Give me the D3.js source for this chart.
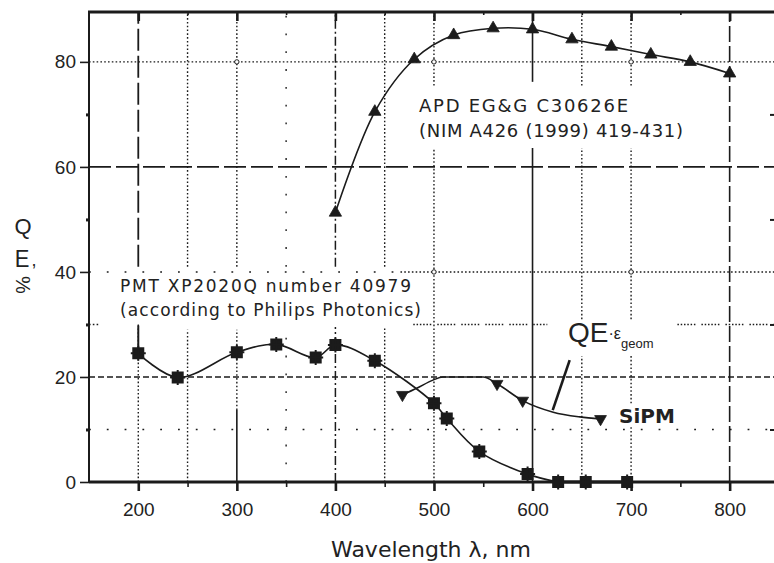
<!DOCTYPE html>
<html>
<head>
<meta charset="utf-8">
<script src="https://cdn.jsdelivr.net/npm/d3@7"></script>
<style>
  html, body { margin: 0; padding: 0; background: #fff; }
  svg { display: block; }
</style>
</head>
<body>
<svg id="chart" width="774" height="563"></svg>
<script>
// ---- data -------------------------------------------------------------
const wavelengthTicks = [200, 300, 400, 500, 600, 700, 800];
const wavelengthMinor = [250, 350, 450, 550, 650, 750];
const qeTicks = [0, 20, 40, 60, 80];
const qeMinor = [10, 30, 50, 70];

// APD EG&G C30626E
const apdWavelength = [400, 440, 480, 520, 560, 600, 640, 680, 720, 760, 800];
const apdQE         = [51.3, 70.5, 80.5, 85.1, 86.4, 86.2, 84.3, 82.9, 81.4, 80.0, 77.8];

// PMT XP2020Q
const pmtWavelength = [200, 240, 300, 340, 380, 400, 440, 500, 513, 546, 595, 626, 654, 696];
const pmtQE         = [24.5, 19.9, 24.7, 26.2, 23.7, 26.1, 23.1, 15.0, 12.1, 5.8, 1.5, 0, 0, 0];

// SiPM, QE x geometric efficiency
const sipmWavelength = [468, 483, 499, 509, 550, 564, 590, 621, 648, 669];
const sipmQE         = [16.6, 17.9, 19.4, 20.0, 20.0, 18.7, 15.5, 13.3, 12.4, 12.0];
const sipmMarked     = [468, 564, 590, 669];

// ---- layout ------------------------------------------------------------
const svg = d3.select("#chart");
const x = d3.scaleLinear().domain([150, 845]).range([89, 774]);
const y = d3.scaleLinear().domain([0, 89.5]).range([482, 12]);
const ink = "#1b1b1b";

// ---- grid --------------------------------------------------------------
const grid = svg.append("g").attr("stroke", ink).attr("fill", "none");
const DOT = "1.6,2.2", SPARSE = "1.8,16", LONG = "22,5", SHORT = "6,3",
      DASHDOT = "9,3,2,3", LONG2 = "16,4",
      GROUPED = "1.5,1.8,1.5,1.8,1.5,1.8,1.5,1.8,1.5,1.8,1.5,6";

function vline(nm, v0, v1, dash, w) {
  grid.append("line")
    .attr("x1", x(nm)).attr("x2", x(nm))
    .attr("y1", y(v0)).attr("y2", y(v1))
    .attr("stroke-width", w || 1.4)
    .attr("stroke-dasharray", dash);
}
function hline(v, nm0, nm1, dash, w) {
  grid.append("line")
    .attr("x1", x(nm0)).attr("x2", x(nm1))
    .attr("y1", y(v)).attr("y2", y(v))
    .attr("stroke-width", w || 1.4)
    .attr("stroke-dasharray", dash);
}

// vertical grid
vline(200, 41, 89.5, LONG, 1.8);
vline(200, 0, 30, DOT);
vline(250, 0, 29, DOT);
vline(250, 41, 89.5, DOT);
vline(300, 13.7, 29, DOT);
vline(300, 0, 13.7, null, 1.6);
vline(300, 41, 89.5, DOT);
vline(350, 0, 29, SPARSE);
vline(350, 41, 89.5, SPARSE);
vline(400, 0, 29.5, DASHDOT, 1.5);
vline(400, 41, 89.5, DASHDOT, 1.5);
vline(450, 0, 29.5, DOT);
vline(450, 41, 89.5, DOT);
vline(500, 0, 63.5, DOT);
vline(500, 75.5, 89.5, DOT);
vline(600, 0, 63.6, null, 1.6);
vline(600, 76.2, 89.5, null, 1.6);
vline(650, 0, 24, DOT);
vline(650, 31, 63.6, DOT);
vline(650, 75.5, 89.5, DOT);
vline(700, 0, 10.5, DOT);
vline(700, 15, 24, DOT);
vline(700, 31, 63.6, DOT);
vline(700, 75.5, 89.5, DOT);
vline(800, 0, 89.5, LONG2, 1.6);

// horizontal grid
hline(80, 150, 845, DOT);
hline(60, 150, 845, LONG, 1.8);
hline(40, 150, 466, SPARSE);
hline(40, 466, 845, DOT);
hline(30, 150, 160, DOT);
hline(30, 479, 615, GROUPED);
hline(30, 747, 845, GROUPED);
hline(20, 150, 845, SHORT, 1.5);
hline(10, 150, 845, SPARSE);

// small rings where the fine dotted rows cross the dotted columns
[[300, 80], [500, 80], [700, 80], [500, 40], [700, 40]].forEach(([nm, v]) => {
  grid.append("circle").attr("cx", x(nm)).attr("cy", y(v)).attr("r", 2.2)
    .attr("fill", "#fff").attr("stroke-width", 1);
});

// ---- frame and axes -----------------------------------------------------
const axisFont = "'Liberation Sans', Arial, sans-serif";

const xAxis = svg.append("g").attr("transform", `translate(0,${y(0)})`)
  .call(d3.axisBottom(x).tickValues(wavelengthTicks).tickSize(9).tickPadding(12));
const xMinor = svg.append("g").attr("transform", `translate(0,${y(0)})`)
  .call(d3.axisBottom(x).tickValues(wavelengthMinor).tickSize(5).tickFormat(""));
const yAxis = svg.append("g").attr("transform", `translate(${x(150)},0)`)
  .call(d3.axisLeft(y).tickValues(qeTicks).tickSize(9).tickPadding(4));
const yMinor = svg.append("g").attr("transform", `translate(${x(150)},0)`)
  .call(d3.axisLeft(y).tickValues(qeMinor).tickSize(3).tickFormat(""));
const topTicks = svg.append("g").attr("transform", `translate(0,${y(89.5)})`)
  .call(d3.axisBottom(x).tickValues(wavelengthTicks).tickSize(9).tickFormat(""));
const topMinor = svg.append("g").attr("transform", `translate(0,${y(89.5)})`)
  .call(d3.axisBottom(x).tickValues(wavelengthMinor).tickSize(3).tickFormat(""));
const rightMinor = svg.append("g").attr("transform", `translate(774,0)`)
  .call(d3.axisLeft(y).tickValues(qeMinor).tickSize(4).tickFormat(""));

[xAxis, xMinor, yAxis, yMinor, topTicks, topMinor, rightMinor].forEach(a => {
  a.select(".domain").remove();
  a.selectAll(".tick line").attr("stroke", ink);
});
xAxis.selectAll(".tick line").attr("stroke-width", 2.6);
topTicks.selectAll(".tick line").attr("stroke-width", 2.6);
xMinor.selectAll(".tick line").attr("stroke-width", 1.6);
topMinor.selectAll(".tick line").attr("stroke-width", 1.6);
yAxis.selectAll(".tick line").attr("stroke-width", 1.6);
yMinor.selectAll(".tick line").attr("stroke-width", 3);
rightMinor.selectAll(".tick line").attr("stroke-width", 2);

xAxis.selectAll(".tick text").attr("font-family", axisFont).attr("font-size", 19).attr("fill", "#222");
yAxis.selectAll(".tick text").attr("font-family", axisFont).attr("font-size", 19).attr("fill", "#222");

// axis lines and top border
svg.append("line").attr("x1", x(150)).attr("x2", 774).attr("y1", y(0)).attr("y2", y(0))
  .attr("stroke", ink).attr("stroke-width", 3);
svg.append("line").attr("x1", x(150) - 1).attr("x2", 774).attr("y1", y(89.5)).attr("y2", y(89.5))
  .attr("stroke", ink).attr("stroke-width", 3.2);
svg.append("line").attr("x1", x(150)).attr("x2", x(150)).attr("y1", y(89.5)).attr("y2", y(0) + 1)
  .attr("stroke", ink).attr("stroke-width", 2);

// axis titles
svg.append("text")
  .attr("x", 431).attr("y", 557)
  .attr("text-anchor", "middle")
  .attr("font-family", "'DejaVu Sans', sans-serif").attr("font-size", 22).attr("fill", "#222")
  .text("Wavelength \u03bb, nm");

const yTitle = svg.append("g").attr("font-family", axisFont).attr("fill", "#222");
yTitle.append("text").attr("x", 23).attr("y", 234).attr("text-anchor", "middle")
  .attr("font-size", 22).text("Q");
yTitle.append("text").attr("x", 22).attr("y", 265).attr("text-anchor", "middle")
  .attr("font-size", 22).attr("transform", "translate(0,-30) scale(1,1.12)").text("E");
yTitle.append("text").attr("x", 34).attr("y", 266).attr("text-anchor", "middle")
  .attr("font-size", 18).text(",");
yTitle.append("text").attr("transform", "translate(23,285) rotate(90)")
  .attr("text-anchor", "middle").attr("dy", "0.35em")
  .attr("font-size", 20).text("%");

// ---- curves ------------------------------------------------------------
const curves = svg.append("g").attr("fill", "none").attr("stroke", ink);

const apdLine = d3.line().x(d => x(d[0])).y(d => y(d[1])).curve(d3.curveCatmullRom.alpha(0.5));
curves.append("path")
  .attr("d", apdLine(d3.zip(apdWavelength, apdQE)))
  .attr("stroke-width", 1.6);

const pmtPts = d3.zip(pmtWavelength, pmtQE);
const pmtSmooth = pmtPts.filter(d => d[0] <= 626);
const pmtFlat = pmtPts.filter(d => d[0] >= 626);
curves.append("path")
  .attr("d", d3.line().x(d => x(d[0])).y(d => y(d[1])).curve(d3.curveCatmullRom.alpha(0.5))(pmtSmooth))
  .attr("stroke-width", 1.6);
curves.append("path")
  .attr("d", d3.line().x(d => x(d[0])).y(d => y(d[1]))(pmtFlat))
  .attr("stroke-width", 3);

curves.append("path")
  .attr("d", d3.line().x(d => x(d[0])).y(d => y(d[1])).curve(d3.curveMonotoneX)(d3.zip(sipmWavelength, sipmQE)))
  .attr("stroke-width", 1.6);

// ---- markers -----------------------------------------------------------
const marks = svg.append("g").attr("fill", ink).attr("stroke", ink);

marks.selectAll(".apd").data(d3.zip(apdWavelength, apdQE)).join("path")
  .attr("class", "apd")
  .attr("transform", d => `translate(${x(d[0])},${y(d[1])})`)
  .attr("d", d3.symbol(d3.symbolTriangle, 66)())
  .attr("stroke-width", 0.8);

const pmtMarker = "M-5,-5H5V5H-5Z M0,-7.5V7.5 M-7.5,0H7.5";
marks.selectAll(".pmt").data(pmtPts).join("path")
  .attr("class", "pmt")
  .attr("transform", d => `translate(${x(d[0])},${y(d[1])})`)
  .attr("d", pmtMarker)
  .attr("stroke-width", 2);

const sipmPts = d3.zip(sipmWavelength, sipmQE).filter(d => sipmMarked.includes(d[0]));
marks.selectAll(".sipm").data(sipmPts).join("path")
  .attr("class", "sipm")
  .attr("transform", d => `translate(${x(d[0])},${y(d[1])}) rotate(180)`)
  .attr("d", d3.symbol(d3.symbolTriangle, 60)())
  .attr("stroke-width", 0.8);

// ---- annotations -------------------------------------------------------
const noteFont = "'DejaVu Sans', sans-serif";
const notes = svg.append("g").attr("font-family", noteFont).attr("fill", "#222");

function note(tx, ty, size, len, str) {
  notes.append("text").attr("x", tx).attr("y", ty)
    .attr("font-size", size)
    .attr("textLength", len).attr("lengthAdjust", "spacing")
    .text(str);
}
note(419, 112, 18, 209, "APD EG&G C30626E");
note(419, 137, 18, 264, "(NIM A426 (1999) 419-431)");
note(120, 292, 17, 291, "PMT XP2020Q number 40979");
note(120, 316, 17, 301, "(according to Philips Photonics)");

// pointer from the PMT label down to its first point
svg.append("line")
  .attr("x1", x(pmtWavelength[0])).attr("x2", x(pmtWavelength[0]))
  .attr("y1", y(29.8)).attr("y2", y(pmtQE[0]))
  .attr("stroke", ink).attr("stroke-width", 2);

// SiPM labels
const qe = svg.append("text").attr("x", 568).attr("y", 342)
  .attr("font-family", axisFont).attr("fill", "#222");
qe.append("tspan").attr("font-size", 28).text("QE");
qe.append("tspan").attr("font-size", 16).attr("dy", -3).text("\u00b7\u03b5");
qe.append("tspan").attr("font-size", 13).attr("dy", 9).text("geom");

svg.append("line")
  .attr("x1", x(637.7)).attr("y1", y(23.2))
  .attr("x2", x(620.5)).attr("y2", y(13.7))
  .attr("stroke", ink).attr("stroke-width", 2.6);

svg.append("text").attr("x", 619).attr("y", 423)
  .attr("font-family", noteFont).attr("font-weight", "bold")
  .attr("font-size", 20).attr("fill", "#222")
  .text("SiPM");
</script>
</body>
</html>
